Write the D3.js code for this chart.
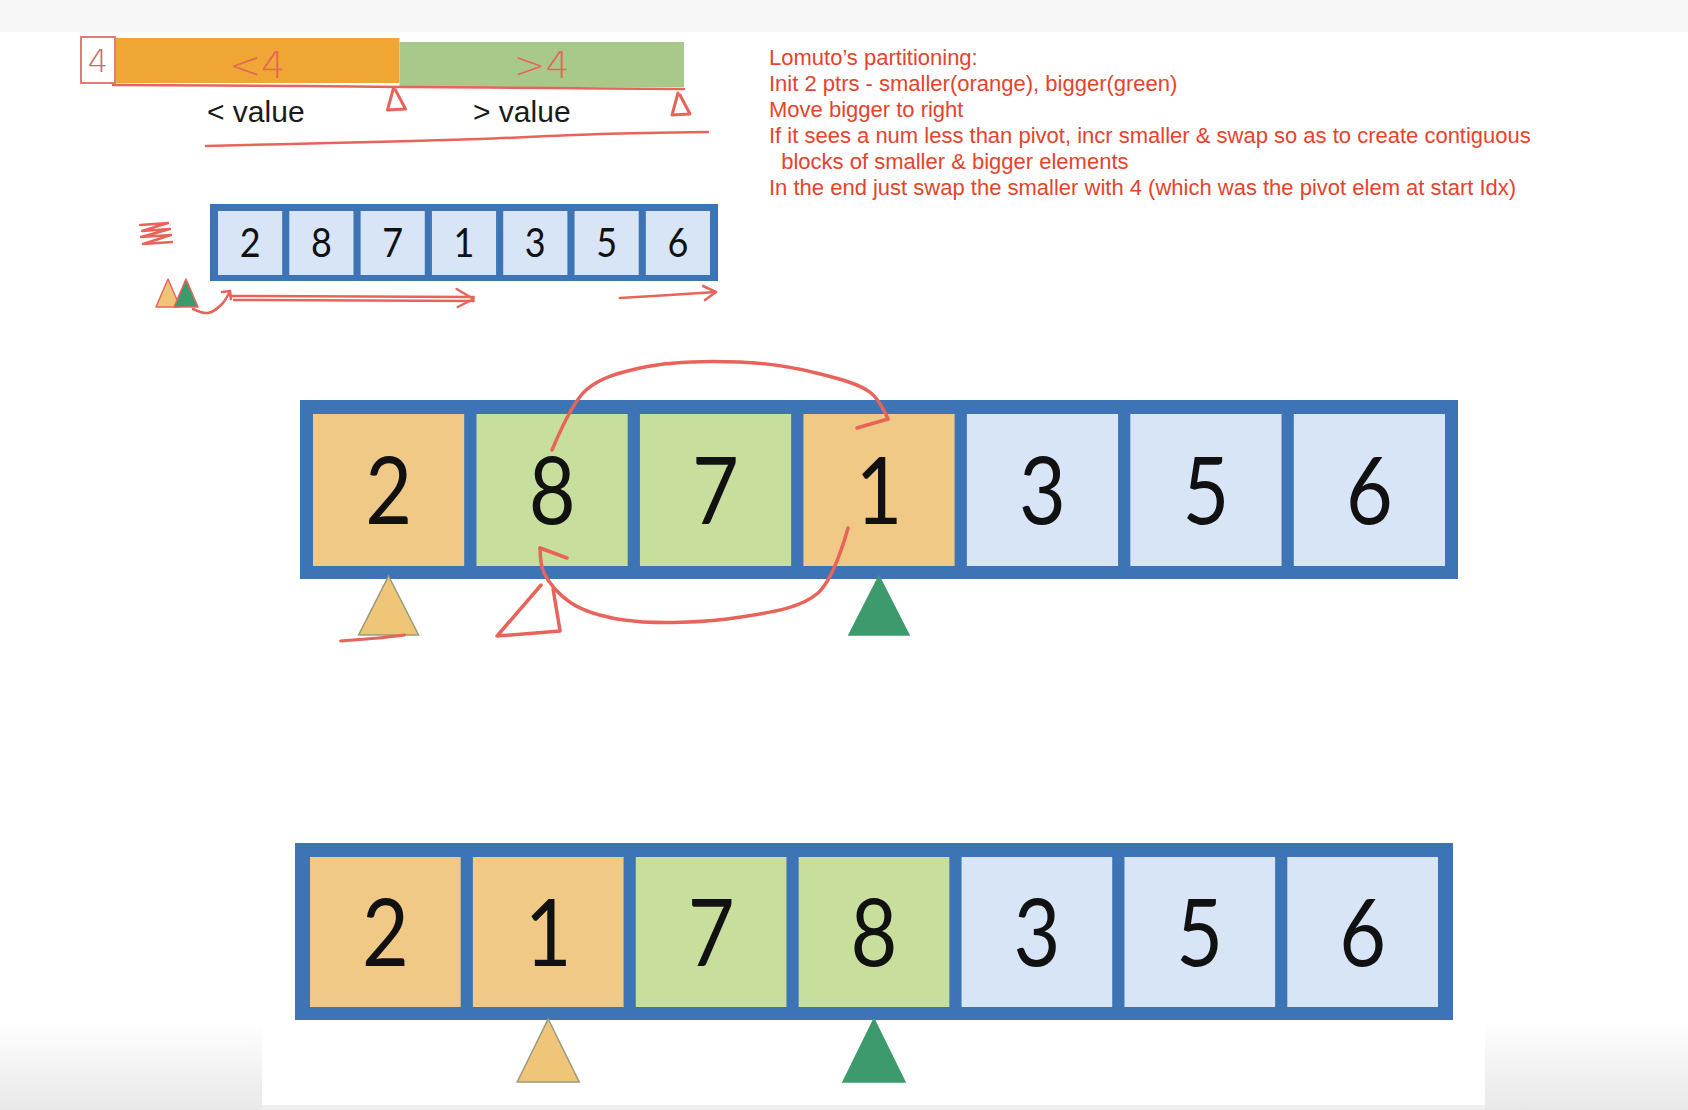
<!DOCTYPE html>
<html>
<head>
<meta charset="utf-8">
<script src="https://cdn.jsdelivr.net/npm/d3@7"></script>
<style>
  html, body { margin: 0; padding: 0; background: #fff; }
  svg { display: block; }
  text { white-space: pre; }
</style>
</head>
<body>
<svg id="chart" width="1688" height="1110"></svg>
<script>

// ---- data ----
var pivotValue = 4;
var rangeLabels = ["<4", ">4"];
var sideLabels = ["< value", "> value"];

var inputValues = [2, 8, 7, 1, 3, 5, 6];

var stepOneValues = [2, 8, 7, 1, 3, 5, 6];
var stepOneGroups = ["smaller", "bigger", "bigger", "smaller", "unseen", "unseen", "unseen"];
var stepOnePointers = [{ kind: "smaller", idx: 0 }, { kind: "bigger", idx: 3 }];
var swapPair = [1, 3]; // 8 <-> 1

var stepTwoValues = [2, 1, 7, 8, 3, 5, 6];
var stepTwoGroups = ["smaller", "smaller", "bigger", "bigger", "unseen", "unseen", "unseen"];
var stepTwoPointers = [{ kind: "smaller", idx: 1 }, { kind: "bigger", idx: 3 }];

var notes = [
  "Lomuto\u2019s partitioning:",
  "Init 2 ptrs - smaller(orange), bigger(green)",
  "Move bigger to right",
  "If it sees a num less than pivot, incr smaller & swap so as to create contiguous",
  "  blocks of smaller & bigger elements",
  "In the end just swap the smaller with 4 (which was the pivot elem at start Idx)"
];

// ---- styles ----
var cellFill = { smaller: "#f1c987", bigger: "#c8de9c", unseen: "#d7e5f6" };
var ptrFill = { smaller: "#efc678", bigger: "#3c9a6c" };
var frameBlue = "#3d74b5";
var sketchRed = "#e8645a";
var noteRed = "#e6432c";

var svg = d3.select("#chart");

// page background (screenshot frame)
var defs = svg.append("defs");
var grad = defs.append("linearGradient").attr("id", "fade").attr("x1", 0).attr("x2", 0).attr("y1", 0).attr("y2", 1);
grad.append("stop").attr("offset", "0%").attr("stop-color", "#ffffff");
grad.append("stop").attr("offset", "100%").attr("stop-color", "#e8e8e8");

svg.append("rect").attr("width", 1688).attr("height", 1110).attr("fill", "#fff");
svg.append("rect").attr("width", 1688).attr("height", 32).attr("fill", "#f7f7f7");
svg.append("rect").attr("x", 0).attr("y", 1022).attr("width", 262).attr("height", 88).attr("fill", "url(#fade)");
svg.append("rect").attr("x", 1485).attr("y", 1020).attr("width", 203).attr("height", 90).attr("fill", "url(#fade)");
svg.append("rect").attr("x", 262).attr("y", 1105).attr("width", 1223).attr("height", 5).attr("fill", "#efefef");

var sketch = d3.line().curve(d3.curveCatmullRom.alpha(0.5));

function stroke(sel, w) {
  return sel.attr("fill", "none").attr("stroke", sketchRed).attr("stroke-width", w || 3)
    .attr("stroke-linecap", "round").attr("stroke-linejoin", "round");
}

// ---- array of boxes ----
function drawArray(values, groups, o) {
  var x = d3.scaleBand().domain(d3.range(values.length))
    .range([o.x0 + o.side, o.x1 - o.side]).paddingInner(o.pad);
  var g = svg.append("g");
  g.append("rect").attr("x", o.x0).attr("y", o.y0)
    .attr("width", o.x1 - o.x0).attr("height", o.y1 - o.y0).attr("fill", frameBlue);
  var cell = g.selectAll("g.cell").data(values).join("g").attr("class", "cell");
  cell.append("rect")
    .attr("x", function(d, i) { return x(i); })
    .attr("y", o.y0 + o.top)
    .attr("width", x.bandwidth())
    .attr("height", o.y1 - o.y0 - o.top - o.bottom)
    .attr("fill", function(d, i) { return cellFill[groups[i]]; });
  var cy = o.y0 + o.top + (o.y1 - o.y0 - o.top - o.bottom) / 2;
  // narrow the digits a little, they are Calibri-like in the picture
  cell.append("text")
    .attr("transform", function(d, i) {
      return "translate(" + (x(i) + x.bandwidth() / 2) + "," + (cy + o.fontSize * 0.36) + ") scale(" + o.squeeze + ",1)";
    })
    .attr("text-anchor", "middle")
    .attr("font-family", "Lato, 'Open Sans', sans-serif")
    .attr("font-size", o.fontSize)
    .attr("fill", "#111")
    .text(function(d) { return d; });
  return x;
}

function drawPointers(x, pointers, y0, h, w) {
  svg.append("g").selectAll("path").data(pointers).join("path")
    .attr("d", function(p) {
      var c = x(p.idx) + x.bandwidth() / 2;
      return "M" + c + "," + y0 + "L" + (c + w / 2) + "," + (y0 + h) + "L" + (c - w / 2) + "," + (y0 + h) + "Z";
    })
    .attr("fill", function(p) { return ptrFill[p.kind]; })
    .attr("stroke", function(p) { return p.kind === "smaller" ? "#9a9a7a" : "#3c9a6c"; })
    .attr("stroke-width", 1.5);
}

// ---- top: partition idea ----
var bar = d3.scaleBand().domain(rangeLabels).range([115, 684]);
var barFill = { "<4": "#efa634", ">4": "#a9c98b" };
svg.append("g").selectAll("rect").data(rangeLabels).join("rect")
  .attr("x", function(d) { return bar(d); })
  .attr("y", function(d, i) { return i ? 42 : 38; })
  .attr("width", bar.bandwidth())
  .attr("height", 45)
  .attr("fill", function(d) { return barFill[d]; });
svg.append("g").selectAll("text").data(rangeLabels).join("text")
  .attr("x", function(d) { return bar(d) + bar.bandwidth() / 2; })
  .attr("y", 78)
  .attr("text-anchor", "middle")
  .attr("font-family", "'DejaVu Sans', sans-serif")
  .attr("font-weight", 200)
  .attr("font-size", 38)
  .attr("fill", "#e4685a")
  .text(function(d) { return d; });

// pivot box
svg.append("rect").attr("x", 81).attr("y", 37).attr("width", 34).attr("height", 46)
  .attr("fill", "#fff").attr("stroke", "#e07b76").attr("stroke-width", 2);
svg.append("text").attr("x", 98).attr("y", 72).attr("text-anchor", "middle")
  .attr("font-family", "'DejaVu Sans', sans-serif").attr("font-weight", 200)
  .attr("font-size", 32).attr("fill", "#c86a68")
  .text(pivotValue);

// underline of bars
stroke(svg.append("path").attr("d", sketch([[113, 85], [300, 86], [400, 87], [550, 88], [684, 89]])), 2.5);

// end-of-region markers
[bar(rangeLabels[0]) + bar.bandwidth(), bar(rangeLabels[1]) + bar.bandwidth()].forEach(function(cx, i) {
  var top = 88 + i * 5;
  stroke(svg.append("path").attr("d",
    "M" + (cx - 6) + "," + top + "L" + (cx - 12) + "," + (top + 22) + "L" + (cx + 6) + "," + (top + 21) + "L" + (cx - 4) + "," + (top + 2)), 3);
});

svg.append("g").selectAll("text").data(sideLabels).join("text")
  .attr("x", function(d, i) { return i ? 473 : 207; })
  .attr("y", 122)
  .attr("font-family", "'Liberation Sans', Arial, sans-serif")
  .attr("font-size", 30)
  .attr("fill", "#1a1a1a")
  .text(function(d) { return d; });

stroke(svg.append("path").attr("d", sketch([[206, 146], [330, 143], [480, 139], [600, 134], [708, 132]])), 2.5);

// ---- notes ----
svg.append("g").selectAll("text").data(notes).join("text")
  .attr("x", 769)
  .attr("y", function(d, i) { return 65 + i * 26; })
  .attr("font-family", "'Liberation Sans', Arial, sans-serif")
  .attr("font-size", 22)
  .attr("fill", noteRed)
  .text(function(d) { return d; });

// ---- small input array ----
var xs = drawArray(inputValues, inputValues.map(function() { return "unseen"; }),
  { x0: 210, x1: 718, y0: 204, y1: 281, side: 8, top: 7, bottom: 6, pad: 0.1, fontSize: 40, squeeze: 0.9 });

// scribbled marker to the left
stroke(svg.append("path").attr("d",
  "M140,225 L168,223 L142,231 L170,229 L141,237 L171,235 L143,244 L172,242"), 2.5);

// two tiny pointers, both at start
var tiny = [{ kind: "smaller", dx: -50 }, { kind: "bigger", dx: -32 }];
svg.append("g").selectAll("path").data(tiny).join("path")
  .attr("d", function(p) {
    var c = xs(0) + p.dx;
    return "M" + c + ",279L" + (c + 12) + ",307L" + (c - 12) + ",307Z";
  })
  .attr("fill", function(p) { return ptrFill[p.kind]; })
  .attr("stroke", sketchRed).attr("stroke-width", 1.5).attr("stroke-linejoin", "round");

// hop arrow to first cell, then scan arrows
var a0 = xs(0) + 10;
stroke(svg.append("path").attr("d", sketch([[a0 - 35, 309], [a0 - 20, 313], [a0 - 6, 304], [a0 + 2, 291]])), 2.5);
stroke(svg.append("path").attr("d", "M" + (a0 - 6) + ",292 L" + (a0 + 2) + ",291 L" + (a0 + 3) + ",299"), 2.5);
var scanEnd = xs(3) + xs.bandwidth() * 0.65;
stroke(svg.append("path").attr("d", "M" + (a0 + 2) + ",296 L" + scanEnd + ",297"), 2.5);
stroke(svg.append("path").attr("d", "M" + (a0 + 6) + ",300 L" + scanEnd + ",301"), 2.5);
stroke(svg.append("path").attr("d", "M" + (scanEnd - 17) + ",289 L" + scanEnd + ",299 L" + (scanEnd - 16) + ",307"), 2.5);
var r0 = xs(6) - 26, r1 = xs(6) + xs.bandwidth() + 6;
stroke(svg.append("path").attr("d", sketch([[r0, 298], [r0 + 50, 295], [r1, 292]])), 2.5);
stroke(svg.append("path").attr("d", "M" + (r1 - 13) + ",286 L" + r1 + ",292 L" + (r1 - 11) + ",300"), 2.5);

// ---- step one: before swap ----
var x1 = drawArray(stepOneValues, stepOneGroups,
  { x0: 300, x1: 1458, y0: 400, y1: 579, side: 13, top: 14, bottom: 13, pad: 0.075, fontSize: 94, squeeze: 0.86 });
drawPointers(x1, stepOnePointers, 576, 59, 60);

// swap arcs between the two cells
var sa = x1(swapPair[0]) + x1.bandwidth() / 2;
var sb = x1(swapPair[1]) + x1.bandwidth() / 2;
stroke(svg.append("path").attr("d", sketch([
  [sa, 450], [sa + 34, 390], [sa + 88, 368], [sa + 187, 362], [sa + 264, 373], [sb - 8, 393], [sb + 9, 419]
])), 3.5);
stroke(svg.append("path").attr("d", "M" + (sb + 9) + ",419 L" + (sb - 22) + ",428"), 3.5);
stroke(svg.append("path").attr("d", sketch([
  [sb - 31, 528], [sb - 61, 593], [sb - 138, 617], [sa + 72, 620], [sa + 19, 603], [sa - 8, 573], [sa - 12, 548]
])), 3.5);
stroke(svg.append("path").attr("d", "M" + (sa - 12) + ",548 L" + (sa + 15) + ",558"), 3.5);

// hand-drawn outline pointer under the swapped cell
stroke(svg.append("path").attr("d",
  "M" + (sa - 11) + ",585 L" + (sa - 55) + ",636 L" + (sa + 8) + ",631 L" + (sa + 1) + ",589"), 3.5);
// scribble under the orange pointer
var p0 = x1(stepOnePointers[0].idx) + x1.bandwidth() / 2;
stroke(svg.append("path").attr("d", sketch([[p0 - 48, 641], [p0 - 10, 638], [p0 + 16, 635]])), 3);

// ---- step two: after swap ----
var x2 = drawArray(stepTwoValues, stepTwoGroups,
  { x0: 295, x1: 1453, y0: 843, y1: 1020, side: 15, top: 14, bottom: 13, pad: 0.075, fontSize: 94, squeeze: 0.86 });
drawPointers(x2, stepTwoPointers, 1019, 63, 62);

</script>
</body>
</html>
